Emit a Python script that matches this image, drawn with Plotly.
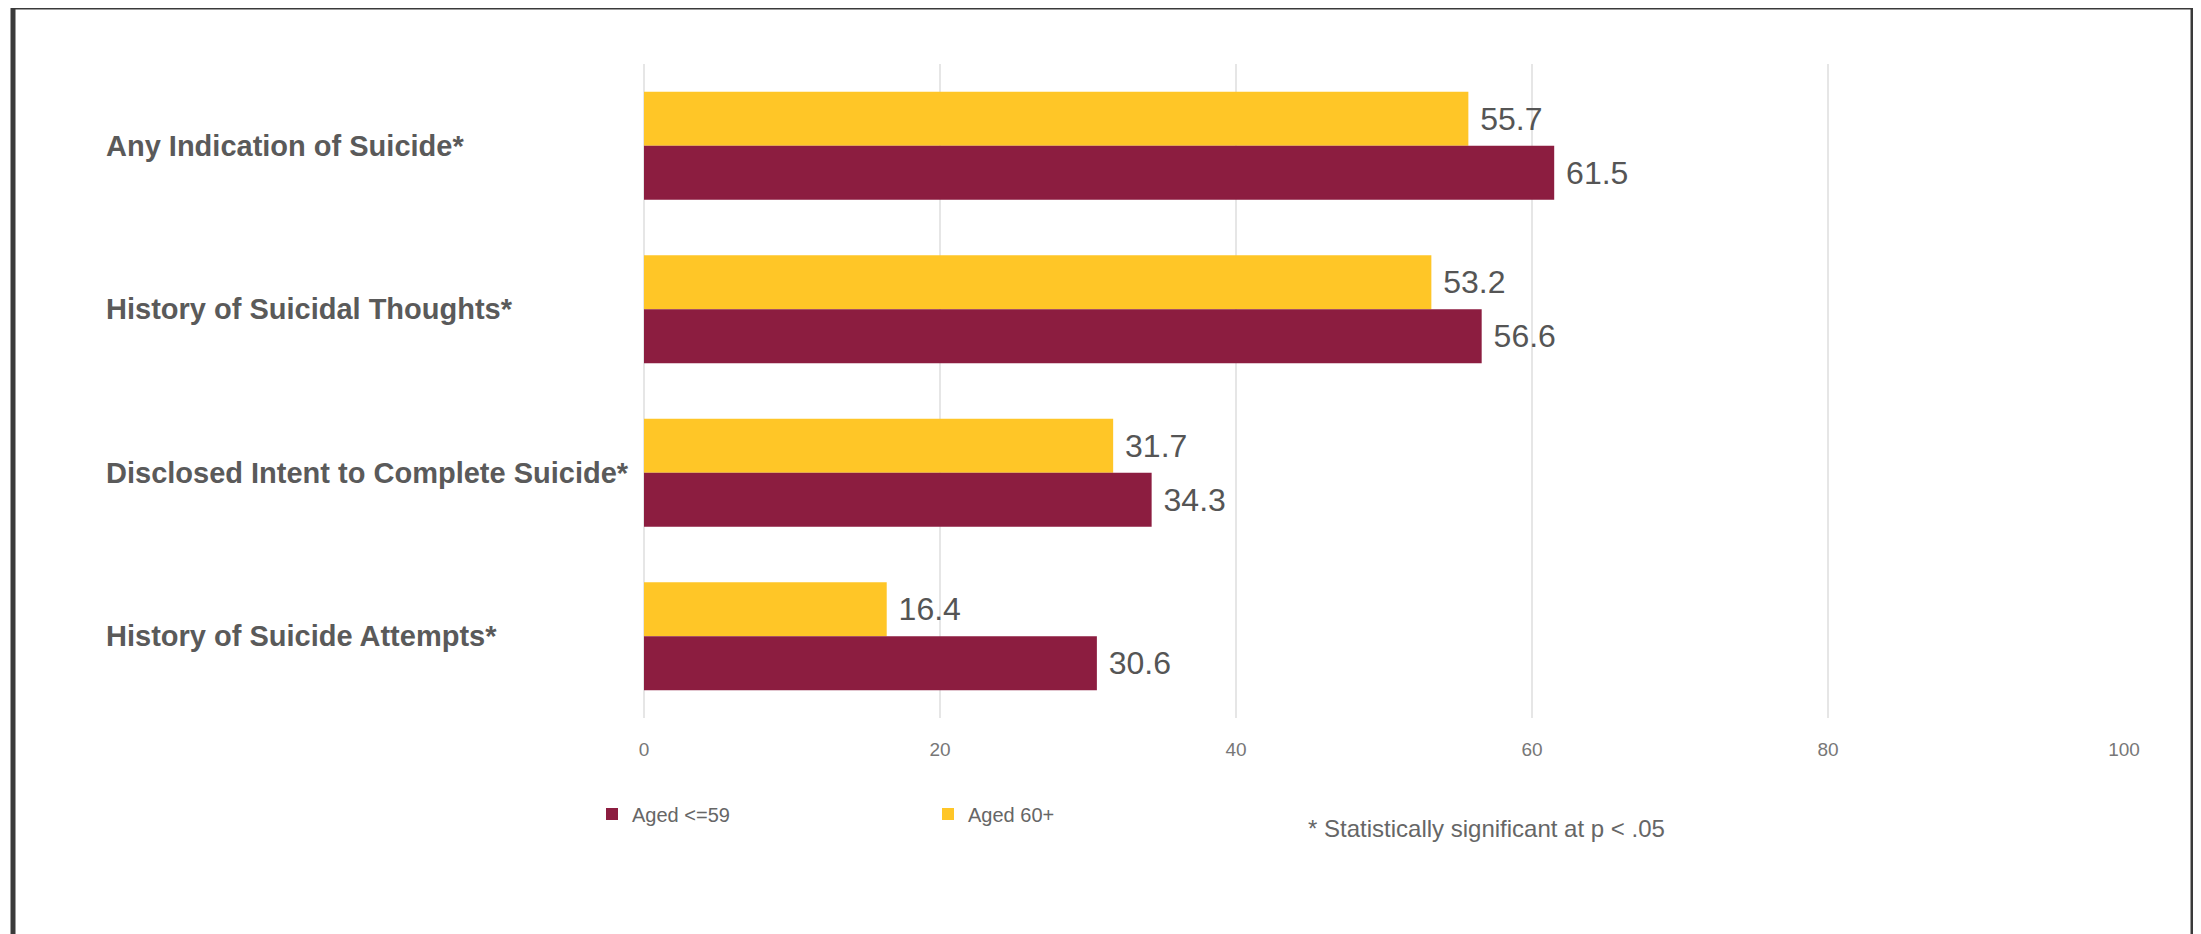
import plotly.graph_objects as go

categories = [
    "Any Indication of Suicide*",
    "History of Suicidal Thoughts*",
    "Disclosed Intent to Complete Suicide*",
    "History of Suicide Attempts*",
]
aged_60_plus = [55.7, 53.2, 31.7, 16.4]
aged_59_under = [61.5, 56.6, 34.3, 30.6]
x_ticks = [0, 20, 40, 60, 80, 100]
note_text = "* Statistically significant at p < .05"

GOLD = "#FFC627"
MAROON = "#8C1D40"
FONT = "Liberation Sans, Arial, sans-serif"

# the page body adds an 8px margin; work in window pixels and convert
OFF = 8
W, H = 2201, 934
# plot area in window pixels
PX0, PX1 = 644, 2124
PY0, PY1 = 64, 718
ML = PX0 - OFF
MR = W - (PX1 - OFF)
MT = PY0 - OFF
MB = H - (PY1 - OFF)
PW = PX1 - PX0
PH = PY1 - PY0


def px_x(px):
    return (px - PX0) / PW


def px_y(py):
    return (PY1 - py) / PH


NB = "\u00a0"

fig = go.Figure()
fig.add_trace(go.Bar(
    y=categories, x=aged_60_plus, orientation="h", name="Aged 60+",
    marker=dict(color=GOLD, line=dict(width=0)),
    text=aged_60_plus, texttemplate=NB + "%{x}", textposition="outside",
    textfont=dict(family=FONT, size=32, color="#555555"),
    cliponaxis=False, constraintext="none", hoverinfo="x+name",
))
fig.add_trace(go.Bar(
    y=categories, x=aged_59_under, orientation="h", name="Aged <=59",
    marker=dict(color=MAROON, line=dict(width=0)),
    text=aged_59_under, texttemplate=NB + "%{x}", textposition="outside",
    textfont=dict(family=FONT, size=32, color="#555555"),
    cliponaxis=False, constraintext="none", hoverinfo="x+name",
))

annotations = []
for c in categories:
    annotations.append(dict(
        x=px_x(104), xref="paper", y=c, yref="y", xanchor="left", yanchor="middle",
        text=c, showarrow=False,
        font=dict(family=FONT, size=29, color="#5a5a5a", weight="bold"),
    ))
annotations.append(dict(
    x=px_x(1306), xref="paper", y=px_y(828), yref="paper", xanchor="left", yanchor="middle",
    text=note_text, showarrow=False,
    font=dict(family=FONT, size=24, color="#666666"),
))

frame_color = "#3a3a3a"
shapes = [
    dict(type="line", xref="paper", yref="paper", x0=px_x(13), x1=px_x(13), y0=px_y(4), y1=px_y(960),
         line=dict(color=frame_color, width=5)),
    dict(type="line", xref="paper", yref="paper", x0=px_x(2193), x1=px_x(2193), y0=px_y(4), y1=px_y(960),
         line=dict(color=frame_color, width=5)),
    dict(type="line", xref="paper", yref="paper", x0=px_x(11), x1=px_x(2195), y0=px_y(7), y1=px_y(7),
         line=dict(color=frame_color, width=5)),
]

fig.update_layout(
    width=W, height=H,
    margin=dict(l=ML, r=MR, t=MT, b=MB, pad=0),
    paper_bgcolor="white", plot_bgcolor="white",
    barmode="group", bargap=0.34, bargroupgap=0,
    font=dict(family=FONT, color="#666666"),
    showlegend=True,
    legend=dict(
        orientation="h", traceorder="reversed",
        x=px_x(592), xanchor="left", y=px_y(814), yanchor="middle",
        font=dict(family=FONT, size=20, color="#666666"),
        entrywidth=291, entrywidthmode="pixels",
        bgcolor="rgba(0,0,0,0)",
    ),
    xaxis=dict(
        range=[0, 100], tickvals=x_ticks, ticktext=[str(v) for v in x_ticks],
        showgrid=True, gridcolor="#e6e6e6", gridwidth=2,
        zeroline=True, zerolinecolor="#e6e6e6", zerolinewidth=2,
        showline=False, ticks="", ticklabelstandoff=18,
        tickfont=dict(family=FONT, size=19, color="#777777"),
        fixedrange=True,
    ),
    yaxis=dict(
        categoryorder="array", categoryarray=categories, autorange="reversed",
        showticklabels=False, showgrid=False, zeroline=False, showline=False,
        fixedrange=True,
    ),
    annotations=annotations,
    shapes=shapes,
)

fig.write_html("out.html")
